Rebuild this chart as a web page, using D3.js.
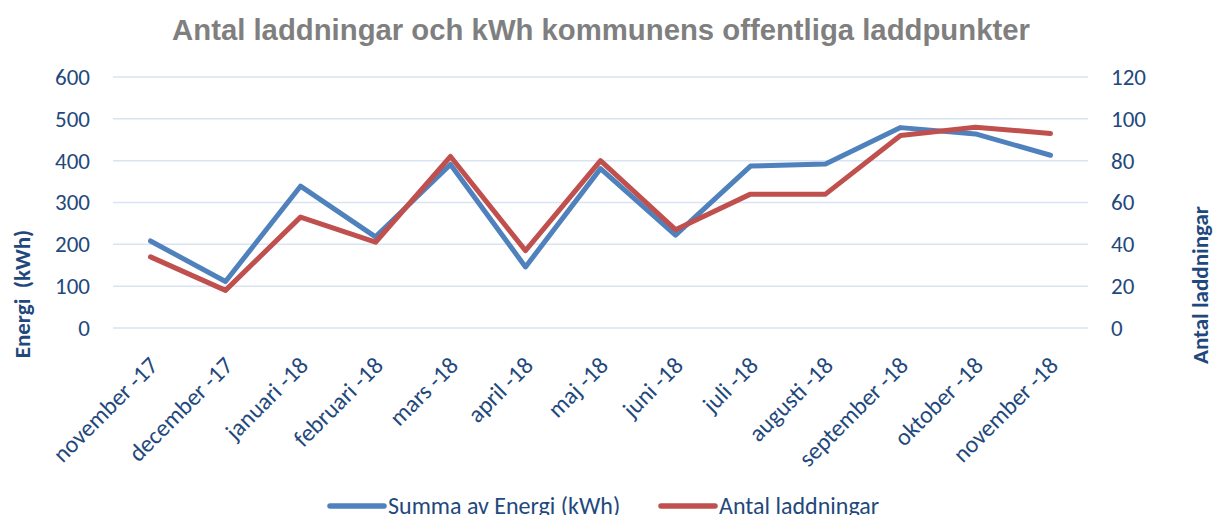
<!DOCTYPE html>
<html lang="sv">
  <head>
    <meta charset="utf-8">
    <title>Antal laddningar och kWh</title>
    <style>
      body { margin: 0; background: #fff; }
      text { font-family: Carlito, Lato, "Open Sans", sans-serif; fill: #1f497d; }
      .title { font-family: "Liberation Sans", Arial, sans-serif; font-weight: bold; fill: #7f7f7f; }
      .grid line { stroke: #d9e4f2; stroke-width: 1.5px; }
      .axis path, .axis line { display: none; }
    </style>
  </head>
  <body>
    <svg width="1214" height="515"></svg>
  </body>
  <script src="https://d3js.org/d3.v7.min.js"></script>
  <script>
  // data
  var months = ["november -17", "december -17", "januari -18", "februari -18", "mars -18", "april -18",
                "maj -18", "juni -18", "juli -18", "augusti -18", "september -18", "oktober -18", "november -18"];
  var energi = [208, 111, 339, 218, 391, 146, 381, 222, 387, 392, 479, 464, 413];
  var laddningar = [34, 18, 53, 41, 82, 37, 80, 47, 64, 64, 92, 96, 93];
  var leftTicks = [0, 100, 200, 300, 400, 500, 600];
  var rightTicks = [0, 20, 40, 60, 80, 100, 120];

  var svg = d3.select("svg");
  var plotLeft = 113, plotRight = 1088, plotTop = 77, plotBottom = 328;

  var x = d3.scaleBand().domain(months).range([plotLeft, plotRight]);
  var yL = d3.scaleLinear().domain([0, 600]).range([plotBottom, plotTop]);
  var yR = d3.scaleLinear().domain([0, 120]).range([plotBottom, plotTop]);

  svg.append("text").attr("class", "title")
      .attr("x", 601).attr("y", 40)
      .attr("text-anchor", "middle").style("font-size", "29.3px")
      .text("Antal laddningar och kWh kommunens offentliga laddpunkter");

  svg.append("g").attr("class", "grid").selectAll("line").data(leftTicks).enter()
      .append("line")
      .attr("x1", plotLeft).attr("x2", plotRight)
      .attr("y1", function(d) { return yL(d); })
      .attr("y2", function(d) { return yL(d); });

  svg.append("g").attr("class", "axis")
      .attr("transform", "translate(" + (plotLeft - 23) + ",0)")
      .call(d3.axisLeft(yL).tickValues(leftTicks).tickSize(0).tickPadding(0));
  svg.append("g").attr("class", "axis")
      .attr("transform", "translate(" + (plotRight + 23) + ",0)")
      .call(d3.axisRight(yR).tickValues(rightTicks).tickSize(0).tickPadding(0));
  svg.selectAll(".axis text").style("font-size", "23px").attr("fill", null);
  svg.selectAll(".axis").attr("font-family", null).attr("font-size", null);

  var xAxis = svg.append("g").attr("class", "axis")
      .attr("transform", "translate(0," + plotBottom + ")")
      .call(d3.axisBottom(x).tickSize(0).tickPadding(0));
  xAxis.attr("font-family", null).attr("font-size", null);
  xAxis.selectAll("text")
      .attr("y", 0).attr("dy", null)
      .attr("transform", "translate(9,39) rotate(-45)")
      .style("text-anchor", "end")
      .style("font-size", "24px")
      .attr("fill", null);

  svg.append("text")
      .attr("transform", "translate(30,294) rotate(-90)")
      .attr("text-anchor", "middle")
      .style("font-size", "23px").style("font-weight", "bold")
      .style("white-space", "pre")
      .text("Energi  (kWh)");
  svg.append("text")
      .attr("transform", "translate(1208,285) rotate(-90)")
      .attr("text-anchor", "middle")
      .style("font-size", "23px").style("font-weight", "bold")
      .text("Antal laddningar");

  var lineE = d3.line()
      .x(function(d, i) { return x(months[i]) + x.bandwidth() / 2; })
      .y(function(d) { return yL(d); });
  var lineA = d3.line()
      .x(function(d, i) { return x(months[i]) + x.bandwidth() / 2; })
      .y(function(d) { return yR(d); });

  svg.append("path").datum(energi)
      .attr("d", lineE)
      .attr("fill", "none").attr("stroke", "#4f81bd")
      .attr("stroke-width", 5).attr("stroke-linejoin", "round").attr("stroke-linecap", "round");
  svg.append("path").datum(laddningar)
      .attr("d", lineA)
      .attr("fill", "none").attr("stroke", "#c0504d")
      .attr("stroke-width", 5).attr("stroke-linejoin", "round").attr("stroke-linecap", "round");

  // legend
  var legend = [
    {name: "Summa av Energi (kWh)", color: "#4f81bd", x: 330},
    {name: "Antal laddningar", color: "#c0504d", x: 661}
  ];
  var lg = svg.append("g").selectAll("g").data(legend).enter().append("g")
      .attr("transform", function(d) { return "translate(" + d.x + ",506)"; });
  lg.append("line")
      .attr("x1", 0).attr("x2", 54)
      .attr("stroke", function(d) { return d.color; })
      .attr("stroke-width", 5.5).attr("stroke-linecap", "round");
  lg.append("text")
      .attr("x", 58).attr("y", 8)
      .style("font-size", "24px")
      .text(function(d) { return d.name; });
  </script>
</html>
